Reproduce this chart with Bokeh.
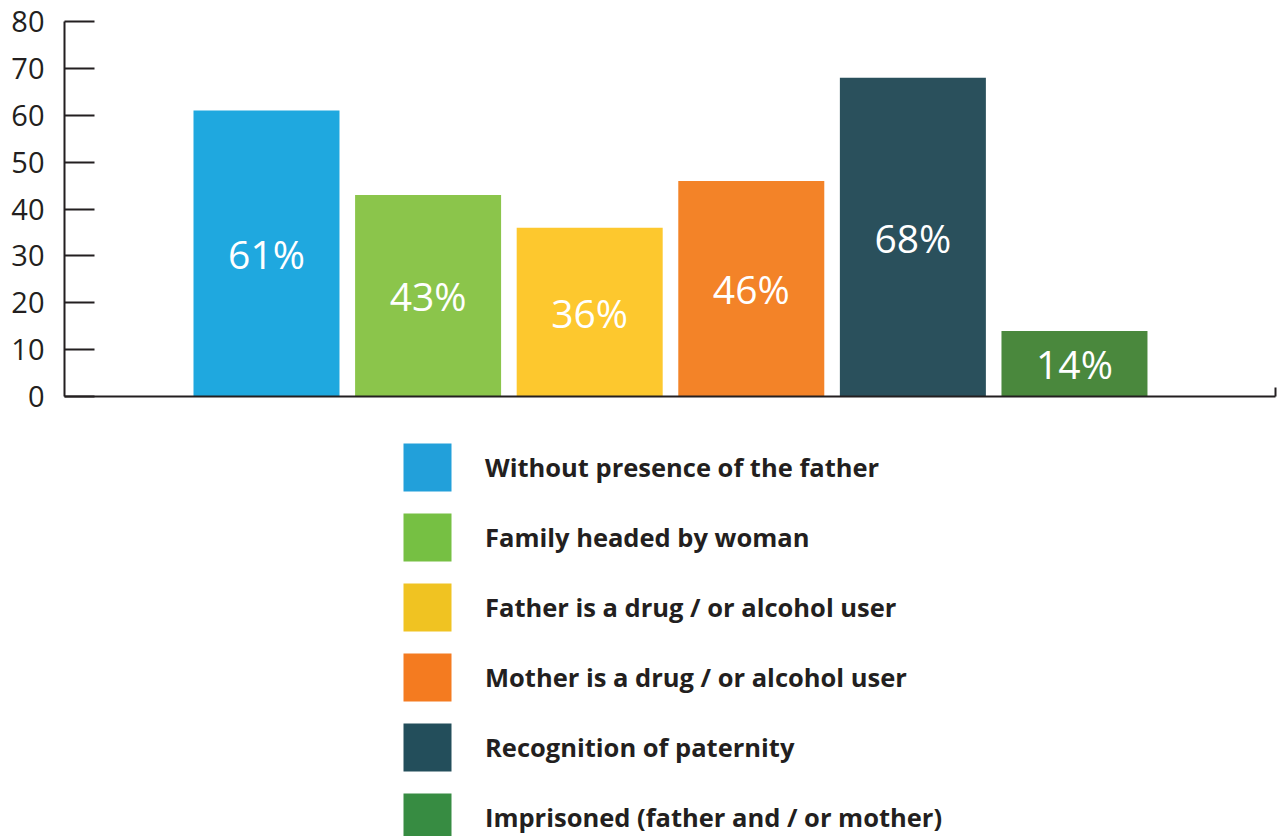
from bokeh.plotting import figure
from bokeh.layouts import column
from bokeh.models import Range1d, FixedTicker, Legend, LegendItem, ColumnDataSource
from bokeh.core.properties import value
from bokeh.embed import file_html
from bokeh.resources import INLINE

categories = [
    "Without presence of the father",
    "Family headed by woman",
    "Father is a drug / or alcohol user",
    "Mother is a drug / or alcohol user",
    "Recognition of paternity",
    "Imprisoned (father and / or mother)",
]
values = [61, 43, 36, 46, 68, 14]
bar_colors = ["#1fa8df", "#8bc54b", "#fdc82e", "#f38328", "#2a505c", "#4a883d"]
legend_colors = ["#22a0da", "#76c043", "#f0c322", "#f47b20", "#234e5b", "#378c42"]
y_ticks = [0, 10, 20, 30, 40, 50, 60, 70, 80]

xs = list(range(len(categories)))
src = ColumnDataSource(dict(
    x=xs,
    top=values,
    color=bar_colors,
    lcolor=legend_colors,
    zero=[0] * len(values),
    ly=[v / 2 for v in values],
    label=[f"{v}%" for v in values],
))

TXT = "#231f20"
X_START, X_END = -1.25, 6.244

p = figure(width=1279, height=420, output_backend="svg", toolbar_location=None,
           x_range=Range1d(X_START, X_END), y_range=Range1d(0, 80),
           min_border_left=64, min_border_right=4, min_border_top=21, min_border_bottom=24)
p.outline_line_color = None
p.xgrid.visible = False
p.ygrid.visible = False

p.vbar(x="x", top="top", width=0.9035, fill_color="color", line_color=None, source=src)
p.text(x="x", y="ly", text="label", source=src, text_color="white",
       text_font=value("Open Sans"), text_font_size="39px",
       text_align="center", text_baseline="middle")

# y axis
ya = p.yaxis[0]
ya.ticker = FixedTicker(ticks=y_ticks)
ya.major_tick_in = 30
ya.major_tick_out = 0
ya.minor_tick_line_color = None
ya.axis_line_width = 2
ya.axis_line_color = TXT
ya.major_tick_line_width = 2
ya.major_tick_line_color = TXT
ya.major_label_text_font = "Open Sans"
ya.major_label_text_font_size = "29px"
ya.major_label_text_color = TXT
ya.major_label_standoff = 20

# x axis
xa = p.xaxis[0]
xa.ticker = FixedTicker(ticks=[X_END])
xa.major_tick_in = 9
xa.major_tick_out = 0
xa.minor_tick_line_color = None
xa.axis_line_width = 2
xa.axis_line_color = TXT
xa.major_tick_line_width = 2
xa.major_tick_line_color = TXT
xa.major_label_overrides = {X_END: ""}
xa.major_label_standoff = 0

# legend figure
q = figure(width=1279, height=416, output_backend="svg", toolbar_location=None,
           x_range=Range1d(0, 1), y_range=Range1d(0, 1),
           x_axis_location=None, y_axis_location=None,
           min_border_left=0, min_border_right=0, min_border_top=0, min_border_bottom=0)
q.outline_line_color = None
q.xgrid.visible = False
q.ygrid.visible = False
leg_r = q.vbar(x="x", top="zero", bottom="zero", width=0.9, fill_color="lcolor",
               line_color=None, source=src)

items = [LegendItem(label=c, renderers=[leg_r], index=i) for i, c in enumerate(categories)]
legend = Legend(items=items, location=(333, -11), orientation="vertical",
                glyph_width=60, glyph_height=60, label_standoff=28, spacing=10,
                padding=0, margin=0, border_line_alpha=0, background_fill_alpha=0,
                label_text_font="Open Sans", label_text_font_style="bold",
                label_text_font_size="25.5px", label_text_color=TXT, label_height=60)
q.add_layout(legend, "center")

layout = column(p, q, spacing=0)
open("out.html", "w").write(file_html(layout, INLINE))
